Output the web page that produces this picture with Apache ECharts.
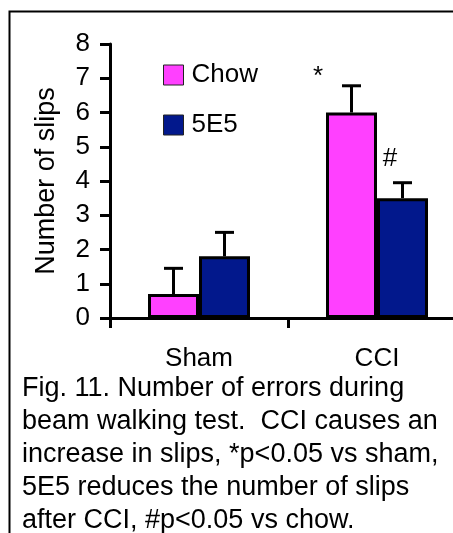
<!DOCTYPE html>
<html>
<head>
<meta charset="utf-8">
<script src="https://cdn.jsdelivr.net/npm/echarts@6/dist/echarts.min.js"></script>
<style>html,body{margin:0;padding:0;background:#fff;}#chart{width:453px;height:533px;}</style>
</head>
<body>
<div id="chart"></div>
<script>
const categories = ['Sham', 'CCI'];
const seriesNames = ['Chow', '5E5'];
const chowMeans = [0.7, 6.0];
const chowErrors = [0.75, 0.78];
const e5Means = [1.8, 3.5];
const e5Errors = [0.7, 0.45];
const chowMarks = ['', '*'];
const e5Marks = ['', '#'];
const yMin = 0, yMax = 8, yInterval = 1;
const captionLines = [
  'Fig. 11. Number of errors during',
  'beam walking test.  CCI causes an',
  'increase in slips, *p<0.05 vs sham,',
  '5E5 reduces the number of slips',
  'after CCI, #p<0.05 vs chow.'
];

const FONT = "'Liberation Sans', Arial, sans-serif";
const FS = 26;
const PINK = '#ff40ff';
const NAVY = '#02188c';
const GAP = 0.427;

const chart = echarts.init(document.getElementById('chart'), null, {renderer: 'canvas'});

function barData(means, marks, markStyle) {
  return means.map((v, i) => {
    if (!marks[i]) return v;
    return {value: v, label: Object.assign({show: true, formatter: marks[i]}, markStyle)};
  });
}

function errorSeries(name, means, errors, side) {
  return {
    type: 'custom',
    name: name + ' error',
    z: 5,
    silent: true,
    data: means.map((m, i) => [i, m, m + errors[i]]),
    renderItem: function (params, api) {
      const band = api.size([1, 0])[0];
      const bw = band * (1 - GAP) / 2;
      const base = api.coord([api.value(0), api.value(1)]);
      const top = api.coord([api.value(0), api.value(2)]);
      const x = base[0] + side * bw / 2;
      const capHalf = 9.5;
      const st = {stroke: '#000', lineWidth: 3};
      return {
        type: 'group',
        children: [
          {type: 'line', shape: {x1: x, y1: base[1], x2: x, y2: top[1]}, style: st},
          {type: 'line', shape: {x1: x - capHalf, y1: top[1], x2: x + capHalf, y2: top[1]}, style: st}
        ]
      };
    }
  };
}

const option = {
  animation: false,
  backgroundColor: '#fff',
  textStyle: {fontFamily: FONT, color: '#000'},
  title: {
    text: captionLines.join('\n'),
    left: 22,
    top: 372,
    padding: 0,
    textStyle: {fontFamily: FONT, fontSize: 27, fontWeight: 'normal', color: '#000', lineHeight: 33}
  },
  legend: {
    data: seriesNames,
    orient: 'vertical',
    left: 163,
    top: 62,
    padding: 0,
    itemWidth: 20,
    itemHeight: 20,
    itemGap: 24,
    icon: 'rect',
    itemStyle: {borderWidth: 1, borderColor: '#222'},
    textStyle: {fontFamily: FONT, fontSize: FS, color: '#000', padding: [0, 0, 0, 3]}
  },
  grid: {left: 110, top: 44, height: 274, width: 356, containLabel: false, outerBoundsMode: 'none'},
  xAxis: {
    type: 'category',
    data: categories,
    axisLine: {lineStyle: {color: '#000', width: 3}},
    axisTick: {show: true, length: 10, lineStyle: {color: '#000', width: 3}},
    axisLabel: {fontFamily: FONT, fontSize: FS, color: '#000', margin: 28},
    splitLine: {show: false}
  },
  yAxis: {
    type: 'value',
    min: yMin,
    max: yMax,
    interval: yInterval,
    name: 'Number of slips',
    nameLocation: 'middle',
    nameGap: 50,
    nameTextStyle: {fontFamily: FONT, fontSize: 27, color: '#000'},
    axisLine: {show: true, lineStyle: {color: '#000', width: 3}},
    axisTick: {show: true, length: 10, lineStyle: {color: '#000', width: 3}},
    axisLabel: {fontFamily: FONT, fontSize: FS, color: '#000', margin: 20},
    splitLine: {show: false}
  },
  graphic: [{
    type: 'rect',
    left: 7,
    top: 9,
    shape: {width: 700, height: 700},
    style: {fill: 'none', stroke: '#000', lineWidth: 2},
    z: 100,
    silent: true
  }],
  series: [
    {
      type: 'bar',
      name: seriesNames[0],
      data: barData(chowMeans, chowMarks, {position: 'top', distance: 23, offset: [-33.5, 0], fontSize: FS, color: '#000', fontFamily: FONT}),
      barGap: '0%',
      barCategoryGap: (GAP * 100) + '%',
      itemStyle: {color: PINK, borderColor: '#000', borderWidth: 3},
      label: {show: false}
    },
    {
      type: 'bar',
      name: seriesNames[1],
      data: barData(e5Means, e5Marks, {position: 'top', distance: 26, offset: [-12.5, 0], fontSize: FS, color: '#000', fontFamily: FONT}),
      barGap: '0%',
      barCategoryGap: (GAP * 100) + '%',
      itemStyle: {color: NAVY, borderColor: '#000', borderWidth: 3},
      label: {show: false}
    },
    errorSeries(seriesNames[0], chowMeans, chowErrors, -1),
    errorSeries(seriesNames[1], e5Means, e5Errors, 1)
  ]
};
chart.setOption(option);
</script>
</body>
</html>
